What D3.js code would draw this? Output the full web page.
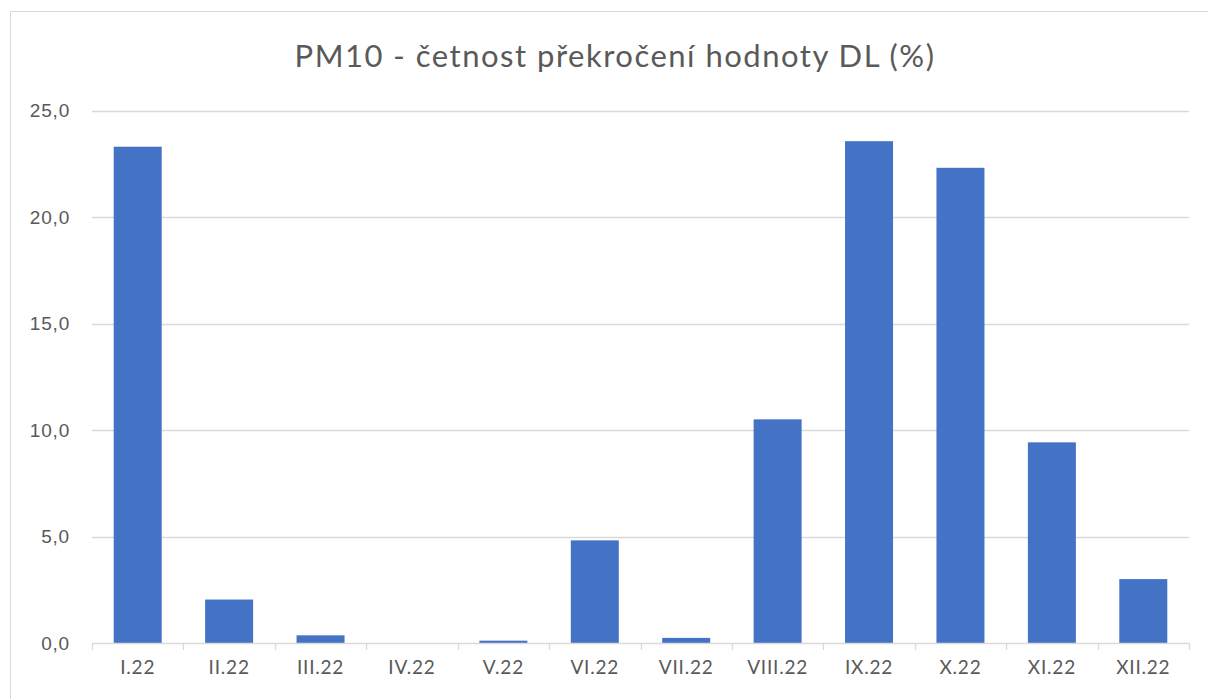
<!DOCTYPE html>
<html>
<head>
	<meta charset="utf-8">
	<title>PM10</title>
	<style type="text/css">
		body {
			margin: 0;
			background-color: #fff;
		}
		svg {
			display: block;
			font-family: Lato, 'Open Sans', sans-serif;
		}
		.axis text {
			fill: #595959;
			font-size: 19px;
			letter-spacing: 0.8px;
		}
		.title {
			fill: #595959;
			font-size: 31px;
			letter-spacing: 1.5px;
		}
	</style>
	<script src="https://cdn.jsdelivr.net/npm/d3@7"></script>
</head>
<body>
	<div id="chart"></div>
	<script type="text/javascript">
		var months = ['I.22', 'II.22', 'III.22', 'IV.22', 'V.22', 'VI.22', 'VII.22', 'VIII.22', 'IX.22', 'X.22', 'XI.22', 'XII.22'];
		var values = [23.3, 2.04, 0.36, 0, 0.11, 4.82, 0.24, 10.5, 23.56, 22.31, 9.42, 3.0];
		var yTicks = [0, 5, 10, 15, 20, 25];
		var title = 'PM10 - četnost překročení hodnoty DL (%)';

		var width = 1208, height = 699;
		var plotLeft = 92, plotRight = 1189, plotTop = 110.5, plotBottom = 643;

		var svg = d3.select('#chart')
			.append('svg')
			.attr('width', width)
			.attr('height', height);

		// outer chart border
		svg.append('rect')
			.attr('x', 10.5).attr('y', 11.5)
			.attr('width', width).attr('height', height)
			.attr('fill', 'none')
			.attr('stroke', '#d9d9d9');

		svg.append('text')
			.attr('class', 'title')
			.attr('x', 615)
			.attr('y', 67)
			.attr('text-anchor', 'middle')
			.text(title);

		var xScale = d3.scaleBand()
			.domain(months)
			.range([plotLeft, plotRight])
			.paddingInner(0.475)
			.paddingOuter(0.2375);

		var yScale = d3.scaleLinear()
			.domain([0, 25])
			.range([plotBottom, plotTop]);

		// gridlines
		svg.append('g')
			.selectAll('line')
			.data(yTicks.slice(1))
			.enter()
			.append('line')
			.attr('x1', plotLeft).attr('x2', plotRight)
			.attr('y1', function(d){ return Math.round(yScale(d)) + 0.5; })
			.attr('y2', function(d){ return Math.round(yScale(d)) + 0.5; })
			.attr('stroke', '#d9d9d9')
			.attr('stroke-width', 1.3);

		var yAxis = d3.axisLeft(yScale)
			.tickValues(yTicks)
			.tickSize(0)
			.tickPadding(22)
			.tickFormat(function(d){ return d3.format('.1f')(d).replace('.', ','); });

		svg.append('g')
			.attr('class', 'axis')
			.attr('transform', 'translate(' + plotLeft + ',0)')
			.call(yAxis)
			.call(function(g){ g.select('.domain').remove(); });

		svg.selectAll('.bar')
			.data(values)
			.enter()
			.append('rect')
			.attr('class', 'bar')
			.attr('x', function(d, i){ return xScale(months[i]); })
			.attr('width', xScale.bandwidth())
			.attr('y', function(d){ return yScale(d); })
			.attr('height', function(d){ return plotBottom - yScale(d); })
			.attr('fill', '#4472c4');

		// x axis with tick marks at category boundaries
		var xAxisG = svg.append('g')
			.attr('class', 'axis')
			.attr('transform', 'translate(0,' + plotBottom + ')');

		xAxisG.append('line')
			.attr('x1', plotLeft).attr('x2', plotRight)
			.attr('y1', 0.5).attr('y2', 0.5)
			.attr('stroke', '#d9d9d9')
			.attr('stroke-width', 1.3);

		var bounds = d3.range(months.length + 1).map(function(i){ return plotLeft + i * xScale.step(); });
		xAxisG.selectAll('.tk')
			.data(bounds)
			.enter()
			.append('line')
			.attr('x1', function(d){ return Math.round(d) + 0.5; })
			.attr('x2', function(d){ return Math.round(d) + 0.5; })
			.attr('y1', 0).attr('y2', 7)
			.attr('stroke', '#d9d9d9')
			.attr('stroke-width', 1.3);

		xAxisG.selectAll('.lbl')
			.data(months)
			.enter()
			.append('text')
			.attr('x', function(d){ return xScale(d) + xScale.bandwidth() / 2; })
			.attr('y', 31)
			.attr('text-anchor', 'middle')
			.text(function(d){ return d; });
	</script>
</body>
</html>
